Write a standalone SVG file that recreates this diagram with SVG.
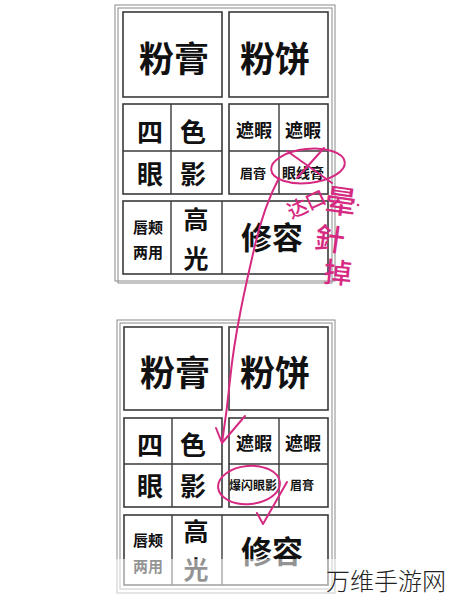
<svg xmlns="http://www.w3.org/2000/svg" width="449" height="600" viewBox="0 0 449 600">
<style>
.frame{fill:none;stroke:#8a8a8a;stroke-width:1}
.box{fill:#fff;stroke:#3a3a3a;stroke-width:1.6}
.div{stroke:#3a3a3a;stroke-width:1.4}
text{font-family:"Noto Sans CJK SC","Noto Sans",sans-serif;fill:#111;text-anchor:middle;dominant-baseline:central;font-weight:700}
.hw{fill:none;stroke:#d62a82;stroke-width:2;stroke-linecap:round;stroke-linejoin:round}
.hwt{fill:#d62a82;font-weight:500}
</style>
<rect width="449" height="600" fill="#fff"/>

<g id="panel-top">
  <rect class="frame" x="115" y="5" width="220" height="276"/>
  <rect class="frame" x="118" y="8" width="214" height="275"/>
  <g id="t-fengao"><rect class="box" x="123" y="12" width="99" height="85"/><text x="174" y="56" font-size="35">粉膏</text></g>
  <g id="t-fenbing"><rect class="box" x="229" y="12" width="99" height="85"/><text x="275" y="56" font-size="35">粉饼</text></g>
  <g id="t-siseyanying">
    <rect class="box" x="123" y="104" width="99" height="90"/>
    <line class="div" x1="171" y1="104" x2="171" y2="194"/><line class="div" x1="123" y1="151" x2="222" y2="151"/>
    <text x="150" y="130" font-size="26">四</text><text x="193" y="130" font-size="26">色</text>
    <text x="150" y="172" font-size="26">眼</text><text x="193" y="172" font-size="26">影</text>
  </g>
  <g id="t-zhexia">
    <rect class="box" x="229" y="104" width="99" height="90"/>
    <line class="div" x1="279" y1="104" x2="279" y2="194"/><line class="div" x1="229" y1="151" x2="328" y2="151"/>
    <text x="254" y="129" font-size="18">遮暇</text><text x="303" y="129" font-size="18">遮暇</text>
    <text x="253" y="172" font-size="13">眉膏</text><text x="303" y="172" font-size="14">眼线膏</text>
  </g>
  <g id="t-bottom">
    <rect class="box" x="123" y="201" width="205" height="73"/>
    <line class="div" x1="171" y1="201" x2="171" y2="274"/><line class="div" x1="222" y1="201" x2="222" y2="274"/>
    <text x="148" y="226" font-size="15">唇颊</text><text x="148" y="251" font-size="15">两用</text>
    <text x="196" y="218" font-size="25">高</text><text x="196" y="257" font-size="25">光</text>
    <text x="272" y="235" font-size="31">修容</text>
  </g>
</g>

<g id="panel-bottom">
  <rect class="frame" x="117" y="320" width="218" height="273"/>
  <rect class="frame" x="120" y="323" width="212" height="266"/>
  <g id="b-fengao"><rect class="box" x="124" y="327" width="98" height="83"/><text x="175" y="370" font-size="35">粉膏</text></g>
  <g id="b-fenbing"><rect class="box" x="229" y="327" width="99" height="83"/><text x="275" y="370" font-size="35">粉饼</text></g>
  <g id="b-siseyanying">
    <rect class="box" x="124" y="418" width="98" height="89"/>
    <line class="div" x1="172" y1="418" x2="172" y2="507"/><line class="div" x1="124" y1="464" x2="222" y2="464"/>
    <text x="150" y="443" font-size="26">四</text><text x="193" y="443" font-size="26">色</text>
    <text x="150" y="484" font-size="26">眼</text><text x="193" y="484" font-size="26">影</text>
  </g>
  <g id="b-zhexia">
    <rect class="box" x="229" y="418" width="99" height="89"/>
    <line class="div" x1="279" y1="418" x2="279" y2="507"/><line class="div" x1="229" y1="464" x2="328" y2="464"/>
    <text x="254" y="442" font-size="18">遮暇</text><text x="303" y="442" font-size="18">遮暇</text>
    <text x="253" y="484" font-size="12">爆闪眼影</text><text x="302" y="484" font-size="12">眉膏</text>
  </g>
  <g id="b-bottom">
    <rect class="box" x="124" y="515" width="204" height="70"/>
    <line class="div" x1="172" y1="515" x2="172" y2="585"/><line class="div" x1="222" y1="515" x2="222" y2="585"/>
    <text x="148" y="539" font-size="15">唇颊</text><text x="148" y="565" font-size="15">两用</text>
    <text x="196" y="530" font-size="25">高</text><text x="196" y="568" font-size="25">光</text>
    <text x="272" y="549" font-size="31">修容</text>
  </g>
</g>

<g id="connectors">
  <ellipse class="hw" cx="308" cy="166" rx="37" ry="17" transform="rotate(-6 308 166)"/>
  <path class="hw" d="M287,151 L332,183 M324,148 L297,178"/>
  <path class="hw" d="M279,178 C270,195 262,215 255,245 C247,280 235,330 230,380 C227,410 224,430 222,443"/>
  <path class="hw" d="M216,428 L222,443 L245,416"/>
  <ellipse class="hw" cx="249" cy="485" rx="31" ry="19" transform="rotate(-5 249 485)"/>
  <path class="hw" d="M287,482 L263,524 L257,513"/>
</g>

<g id="handwriting">
  <text class="hwt" x="306" y="203" font-size="20" transform="rotate(-25 306 203)">达口</text>
  <text class="hwt" x="341" y="199" font-size="32" transform="rotate(8 341 199)">晕</text>
  <text class="hwt" x="330" y="237" font-size="30" transform="rotate(8 330 237)">針</text>
  <text class="hwt" x="338" y="271" font-size="28" transform="rotate(5 338 271)">掉</text>
  <circle cx="358" cy="205" r="1.3" fill="#d62a82"/>
</g>

<rect x="0" y="559" width="449" height="41" fill="#fff" opacity="0.55"/>
<text x="386" y="579" font-size="24" style="font-weight:300;fill:#222">万维手游网</text>
</svg>
